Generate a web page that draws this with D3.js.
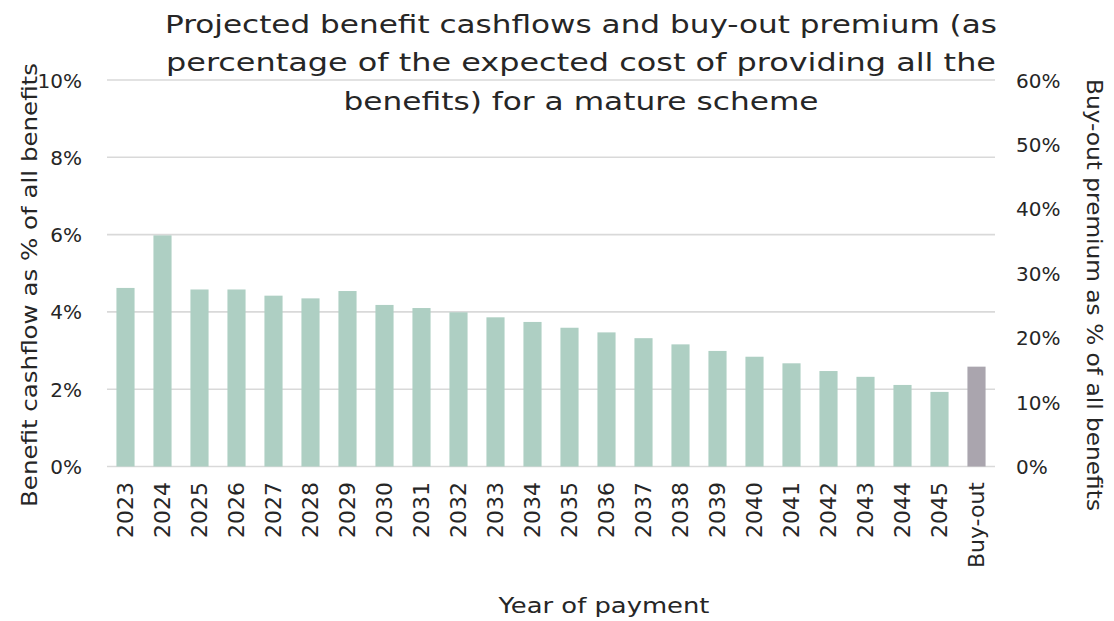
<!DOCTYPE html>
<html>
<head>
<meta charset="utf-8">
<script src="https://cdn.jsdelivr.net/npm/d3@7"></script>
<style>
html,body{margin:0;padding:0;background:#fff;}
svg text{font-family:"DejaVu Sans",sans-serif;fill:#262626;}
</style>
</head>
<body>
<svg id="chart" width="1114" height="621"></svg>
<script>
const categories = ["2023","2024","2025","2026","2027","2028","2029","2030","2031","2032","2033","2034","2035","2036","2037","2038","2039","2040","2041","2042","2043","2044","2045","Buy-out"];
const cashflowValues = [4.62,5.98,4.58,4.58,4.42,4.35,4.54,4.18,4.10,3.99,3.86,3.74,3.59,3.47,3.32,3.16,2.99,2.84,2.67,2.47,2.32,2.11,1.93,null];
const buyoutValues = [null,null,null,null,null,null,null,null,null,null,null,null,null,null,null,null,null,null,null,null,null,null,null,15.5];
const leftTicks = [0,2,4,6,8,10];
const rightTicks = [0,10,20,30,40,50,60];
const titleLines = ["Projected benefit cashflows and buy-out premium (as","percentage of the expected cost of providing all the","benefits) for a mature scheme"];
const titleWidths = [832, 830, 475];

const svg = d3.select("#chart");
const m = {left:107, right:995, top:80, bottom:466.5};

const x = d3.scaleBand().domain(categories).range([m.left, m.right]).paddingInner(0.51).paddingOuter(0.255);
const yL = d3.scaleLinear().domain([0,10]).range([m.bottom, m.top]);
const yR = d3.scaleLinear().domain([0,60]).range([m.bottom, m.top]);

// gridlines
svg.append("g").selectAll("line").data(leftTicks).join("line")
  .attr("x1", m.left).attr("x2", m.right)
  .attr("y1", d=>yL(d)).attr("y2", d=>yL(d))
  .attr("stroke", "#d9d9d9").attr("stroke-width", 1.6);

// bars
svg.append("g").selectAll("rect").data(categories.map((c,i)=>({c, v:cashflowValues[i]})).filter(d=>d.v!=null)).join("rect")
  .attr("x", d=>x(d.c)).attr("width", x.bandwidth())
  .attr("y", d=>yL(d.v)).attr("height", d=>yL(0)-yL(d.v))
  .attr("fill", "#aecfc3");
svg.append("g").selectAll("rect").data(categories.map((c,i)=>({c, v:buyoutValues[i]})).filter(d=>d.v!=null)).join("rect")
  .attr("x", d=>x(d.c)).attr("width", x.bandwidth())
  .attr("y", d=>yR(d.v)).attr("height", d=>yR(0)-yR(d.v))
  .attr("fill", "#aaa5ae");

// left axis
const axL = svg.append("g").attr("transform", `translate(82,0)`)
  .call(d3.axisLeft(yL).tickValues(leftTicks).tickFormat(d=>d+"%").tickSize(0).tickPadding(0));
axL.select(".domain").remove();
axL.selectAll("text").attr("font-size", 20).attr("dy","0.35em");

// right axis
const axR = svg.append("g").attr("transform", `translate(1016,0)`)
  .call(d3.axisRight(yR).tickValues(rightTicks).tickFormat(d=>d+"%").tickSize(0).tickPadding(0));
axR.select(".domain").remove();
axR.selectAll("text").attr("font-size", 20).attr("dy","0.35em");

// x axis
const axB = svg.append("g").attr("transform", `translate(0,482)`)
  .call(d3.axisBottom(x).tickSize(0).tickPadding(0));
axB.select(".domain").remove();
axB.selectAll("text").attr("font-size", 22)
  .attr("transform", "rotate(-90)").attr("text-anchor","end")
  .attr("x", 0).attr("y", 0).attr("dx", 0).attr("dy", "0.36em");

// titles
svg.append("g").selectAll("text").data(titleLines).join("text")
  .attr("x", 581).attr("y", (d,i)=>32.5 + i*38.5)
  .attr("text-anchor","middle").attr("font-size", 25)
  .attr("textLength", (d,i)=>titleWidths[i]).attr("lengthAdjust","spacingAndGlyphs")
  .text(d=>d);

svg.append("text").attr("transform","translate(37,285) rotate(-90)")
  .attr("text-anchor","middle").attr("font-size", 22)
  .attr("textLength", 444).attr("lengthAdjust","spacingAndGlyphs")
  .text("Benefit cashflow as % of all benefits");
svg.append("text").attr("transform","translate(1087,295) rotate(90)")
  .attr("text-anchor","middle").attr("font-size", 22)
  .attr("textLength", 432).attr("lengthAdjust","spacingAndGlyphs")
  .text("Buy-out premium as % of all benefits");
svg.append("text").attr("x", 604).attr("y", 613)
  .attr("text-anchor","middle").attr("font-size", 22)
  .attr("textLength", 211).attr("lengthAdjust","spacingAndGlyphs")
  .text("Year of payment");
</script>
</body>
</html>
